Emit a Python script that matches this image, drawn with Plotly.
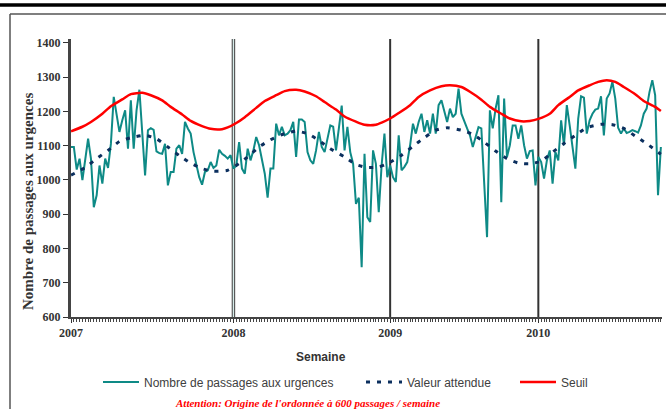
import plotly.graph_objects as go

# ---------------- data ----------------
annees = ["2007", "2008", "2009", "2010"]
debut_annee = [0, 57, 112, 164]          # week index where each year starts

passages = [
    1096, 1096, 1030, 1062, 999, 1062, 1120, 1062, 920, 955,
    1042, 989, 1062, 1035, 1105, 1242, 1193, 1140, 1174, 1203,
    1091, 1232, 1091, 1203, 1263, 1125, 1013, 1145, 1151, 1146,
    1083, 1078, 1076, 1105, 984, 1023, 1023, 1091, 1101, 1076,
    1169, 1150, 1135, 1081, 1042, 1008, 986, 1023, 1028, 1052,
    1035, 1042, 1088, 1076, 1070,
    1062, 1072, 1033, 1042, 1110, 1033, 1018, 1091, 1057, 1086,
    1125, 1101, 1057, 1018, 948, 1033, 1033, 1164, 1130, 1155,
    1130, 1135, 1145, 1169, 1067, 1176, 1176, 1169, 1081, 1057,
    1047, 1086, 1140, 1096, 1081, 1120, 1159, 1155, 1086, 1150,
    1217, 1086, 1155, 1081, 1047, 930, 948, 745, 1076, 891,
    877, 1086, 1047, 906,
    1042, 1135, 1008, 1042, 1008, 994, 1130, 1028, 1038, 1052,
    1101, 1164, 1135, 1169, 1193, 1140, 1174, 1135, 1193, 1135,
    1218, 1232, 1198, 1169, 1208, 1183, 1193, 1266, 1193, 1169,
    1150, 1130, 1096, 1125, 1154, 1150, 989, 833, 1203, 1150,
    1208, 1247, 935, 1237, 1067, 1101, 1159, 1159, 1120, 1159,
    1101, 1062, 1084, 1086, 984,
    1067, 1052, 1004, 1057, 1086, 989, 1081, 1057, 1174, 1101,
    1218, 1159, 1101, 1033, 1179, 1244, 1240, 1135, 1174, 1193,
    1205, 1208, 1244, 1130, 1237, 1252, 1286, 1237, 1152, 1135,
    1150, 1137, 1140, 1145, 1142, 1138, 1159, 1193, 1208, 1256,
    1291, 1247, 955, 1096,
]
semaines = list(range(len(passages)))

attendue_sem = [0, 5, 9, 13, 17, 21, 26, 30, 34, 38, 42, 46, 50, 55, 58, 62, 66, 70, 75, 79,
                83, 87, 91, 96, 100, 104, 108, 111, 116, 120, 124, 128, 132, 137, 141, 145,
                149, 153, 157, 161, 165, 169, 173, 177, 181, 186, 190, 194, 198, 202, 207]
attendue_val = [1014, 1036, 1062, 1086, 1112, 1123, 1130, 1120, 1096, 1071, 1049, 1033, 1025,
                1028, 1042, 1067, 1096, 1117, 1135, 1142, 1135, 1115, 1091, 1067, 1045, 1036,
                1038, 1047, 1072, 1098, 1123, 1145, 1152, 1145, 1133, 1110, 1084, 1062, 1049,
                1047, 1055, 1081, 1106, 1130, 1152, 1162, 1161, 1150, 1128, 1106, 1075]

seuil_sem = [0, 4, 7, 11, 14, 18, 21, 25, 28, 32, 35, 39, 42, 46, 49, 53, 55, 58, 61, 65,
             68, 72, 75, 79, 82, 86, 89, 93, 96, 100, 103, 107, 109, 112, 115, 119, 122, 126,
             130, 133, 137, 140, 144, 147, 151, 154, 158, 161, 164, 168, 171, 175, 178, 182,
             185, 188, 191, 194, 198, 201, 205, 207]
seuil_val = [1142, 1155, 1169, 1193, 1215, 1235, 1250, 1254, 1247, 1232, 1213, 1191, 1172,
             1157, 1149, 1148, 1153, 1166, 1183, 1210, 1230, 1247, 1259, 1263, 1258, 1244,
             1227, 1205, 1185, 1170, 1161, 1161, 1167, 1179, 1195, 1218, 1242, 1261, 1273,
             1276, 1271, 1257, 1234, 1213, 1193, 1179, 1171, 1172, 1178, 1193, 1218, 1242,
             1261, 1276, 1286, 1291, 1286, 1271, 1250, 1230, 1213, 1201]

# ---------------- figure ----------------
W, H = 666, 409
ML, MR, MT, MB = 71, 4, 39, 92
pw, ph = W - ML - MR, H - MT - MB


def px_x(p):
    return (p - ML) / pw


def px_y(p):
    return (H - MB - p) / ph


fig = go.Figure()
fig.add_trace(go.Scatter(
    x=semaines, y=passages, mode="lines", name="Nombre de passages aux urgences",
    line=dict(color="#0E8A86", width=2), legend="legend"))
fig.add_trace(go.Scatter(
    x=attendue_sem, y=attendue_val, mode="lines", name="Valeur attendue",
    line=dict(color="#0B2F5E", width=3, dash="4px,7px", shape="spline", smoothing=0.6),
    legend="legend2"))
fig.add_trace(go.Scatter(
    x=seuil_sem, y=seuil_val, mode="lines", name="Seuil",
    line=dict(color="#FF0000", width=2.5, shape="spline", smoothing=0.6),
    legend="legend3"))

shapes = []
# year separators
for i, xv in enumerate(debut_annee[1:]):
    if i == 0:
        shapes.append(dict(type="line", xref="x", yref="paper", x0=xv, x1=xv, y0=0, y1=1,
                           line=dict(color="#555555", width=3.5), layer="below"))
        shapes.append(dict(type="line", xref="x", yref="paper", x0=xv, x1=xv, y0=0, y1=1,
                           line=dict(color="#D6ECEA", width=1.2), layer="below"))
    else:
        shapes.append(dict(type="line", xref="x", yref="paper", x0=xv, x1=xv, y0=0, y1=1,
                           line=dict(color="#333333", width=2), layer="below"))
# page decorations: top rule and chart frame
shapes.append(dict(type="line", xref="paper", yref="paper", x0=px_x(-5), x1=px_x(W + 5),
                   y0=px_y(5), y1=px_y(5), line=dict(color="#000000", width=3.5)))
shapes.append(dict(type="line", xref="paper", yref="paper", x0=px_x(10), x1=px_x(W + 5),
                   y0=px_y(14), y1=px_y(14), line=dict(color="#555555", width=1.5)))
shapes.append(dict(type="line", xref="paper", yref="paper", x0=px_x(10), x1=px_x(10),
                   y0=px_y(14), y1=px_y(H + 5), line=dict(color="#555555", width=1.5)))

legend_common = dict(orientation="h", yanchor="middle", xanchor="left",
                     xref="container", yref="container", y=1 - 382 / H,
                     bgcolor="rgba(0,0,0,0)", borderwidth=0, itemwidth=36,
                     font=dict(family="Liberation Sans", size=12, color="#404040"))

fig.update_layout(
    width=W, height=H,
    margin=dict(l=ML, r=MR, t=MT, b=MB, pad=0, autoexpand=False),
    paper_bgcolor="white", plot_bgcolor="white",
    showlegend=True,
    legend=dict(x=98 / W, **legend_common),
    legend2=dict(x=361 / W, **legend_common),
    legend3=dict(x=515 / W, **legend_common),
    xaxis=dict(
        range=[0, 207.4], tickmode="array", tickvals=debut_annee, ticktext=annees,
        ticks="outside", ticklen=4, tickcolor="#333", tickwidth=1,
        showline=True, linewidth=2, linecolor="#444", showgrid=False, zeroline=False,
        tickfont=dict(family="Liberation Serif", size=12, color="#333", weight="bold"),
        minor=dict(tick0=0, dtick=1, ticks="outside", ticklen=3, tickcolor="#444",
                   tickwidth=1, showgrid=False),
    ),
    yaxis=dict(
        range=[600, 1411], tickmode="linear", tick0=600, dtick=100,
        ticks="outside", ticklen=5, tickcolor="#333",
        showline=True, linewidth=3, linecolor="#444", showgrid=False, zeroline=False,
        tickfont=dict(family="Liberation Serif", size=12, color="#333", weight="bold"),
    ),
    shapes=shapes,
    annotations=[
        dict(text="Semaine", xref="paper", yref="paper", x=px_x(321), y=px_y(357),
             showarrow=False, xanchor="center", yanchor="middle",
             font=dict(family="Liberation Sans", size=12, color="#333", weight="bold")),
        dict(text="Nombre de passages aux urgences", xref="paper", yref="paper",
             x=px_x(28), y=px_y(202), textangle=-90, showarrow=False,
             xanchor="center", yanchor="middle",
             font=dict(family="Liberation Serif", size=15, color="#333", weight="bold")),
        dict(text="Attention: Origine de l'ordonnée à 600 passages / semaine",
             xref="paper", yref="paper", x=px_x(307), y=px_y(403), showarrow=False,
             xanchor="center", yanchor="middle",
             font=dict(family="Liberation Serif", size=11, color="#FF0000",
                       weight="bold", style="italic")),
    ],
)

fig.write_html("out.html",
               config={"displayModeBar": False},
               post_script="document.body.style.margin='0px';"
                           "document.body.style.overflow='hidden';")
